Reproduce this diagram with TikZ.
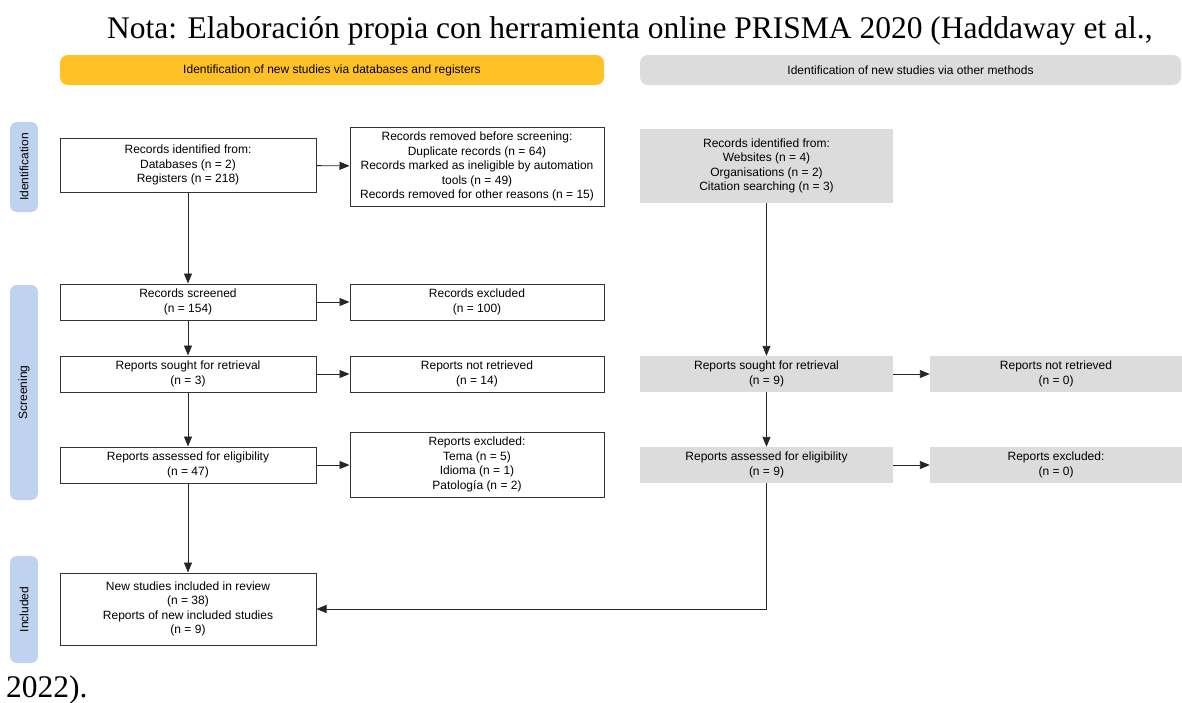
\documentclass[tikz,border=0pt]{standalone}
\usepackage{fontspec}
\setmainfont{Liberation Serif}
\newfontfamily\hv{Liberation Sans}
\usetikzlibrary{arrows.meta}
\definecolor{hdryellow}{HTML}{FFC125}
\definecolor{hdrgrey}{HTML}{DCDCDC}
\definecolor{sideblue}{HTML}{BFD3F0}
\definecolor{edgegrey}{HTML}{333333}
\tikzset{
  boxtext/.style={font=\hv\fontsize{12}{14.5}\selectfont, align=center, inner sep=0pt},
  whitebox/.style={boxtext, draw=edgegrey, line width=1pt, fill=white},
  greybox/.style={boxtext, fill=hdrgrey},
  header/.style={font=\hv\fontsize{12}{14}\selectfont, rounded corners=8pt, inner sep=0pt, minimum height=30pt},
  sidelabel/.style={font=\hv\fontsize{12}{14}\selectfont, fill=sideblue, rounded corners=7pt, inner sep=0pt, minimum height=28pt, rotate=90},
  arr/.style={draw=black!85, line width=0.9pt, -{Triangle[length=10pt,width=8pt]}},
  notetext/.style={font=\fontsize{31.5}{36}\selectfont, inner sep=0pt}
}
\begin{document}
\begin{tikzpicture}[x=1pt,y=-1pt]
\useasboundingbox (0,0) rectangle (1182,702);
% note text
\node[notetext, anchor=base west] (note1) at (107,38) {Nota: Elaboración propia con herramienta online PRISMA 2020 (Haddaway et al.,};
\node[notetext, anchor=base west] (note2) at (6,697) {2022).};
% headers
\node[header, fill=hdryellow, minimum width=544pt] (hdrL) at (332,70) {Identification of new studies via databases and registers};
\node[header, fill=hdrgrey, minimum width=541pt] (hdrR) at (910.5,70) {Identification of new studies via other methods};
% side labels
\node[sidelabel, minimum width=90pt] (sideId) at (24,167) {Identification};
\node[sidelabel, minimum width=215pt] (sideSc) at (24,392.5) {Screening};
\node[sidelabel, minimum width=107pt] (sideIn) at (24,609.5) {Included};
% left column
\node[whitebox, minimum width=256pt, minimum height=54pt] (A) at (188,165) {Records identified from:\\Databases (n = 2)\\Registers (n = 218)};
\node[whitebox, minimum width=254pt, minimum height=79pt] (B) at (477,166.5) {Records removed before screening:\\Duplicate records (n = 64)\\Records marked as ineligible by automation\\tools (n = 49)\\Records removed for other reasons (n = 15)};
\node[whitebox, minimum width=256pt, minimum height=36pt] (D) at (188,302) {Records screened\\(n = 154)};
\node[whitebox, minimum width=254pt, minimum height=36pt] (E) at (477,302) {Records excluded\\(n = 100)};
\node[whitebox, minimum width=256pt, minimum height=36pt] (F) at (188,374) {Reports sought for retrieval\\(n = 3)};
\node[whitebox, minimum width=254pt, minimum height=36pt] (G) at (477,374) {Reports not retrieved\\(n = 14)};
\node[whitebox, minimum width=256pt, minimum height=36pt] (J) at (188,465) {Reports assessed for eligibility\\(n = 47)};
\node[whitebox, minimum width=254pt, minimum height=65pt] (K) at (477,464.5) {Reports excluded:\\Tema (n = 5)\\Idioma (n = 1)\\Patología (n = 2)};
\node[whitebox, minimum width=256pt, minimum height=72pt] (N) at (188,609) {New studies included in review\\(n = 38)\\Reports of new included studies\\(n = 9)};
% right column
\node[greybox, minimum width=253pt, minimum height=74pt] (C) at (766.5,166) {Records identified from:\\Websites (n = 4)\\Organisations (n = 2)\\Citation searching (n = 3)};
\node[greybox, minimum width=253pt, minimum height=36pt] (H) at (766.5,374) {Reports sought for retrieval\\(n = 9)};
\node[greybox, minimum width=252pt, minimum height=36pt] (I) at (1056,374) {Reports not retrieved\\(n = 0)};
\node[greybox, minimum width=253pt, minimum height=36pt] (L) at (766.5,465) {Reports assessed for eligibility\\(n = 9)};
\node[greybox, minimum width=252pt, minimum height=36pt] (M) at (1056,465) {Reports excluded:\\(n = 0)};
% connectors
\draw[arr] (A) -- (B);
\draw[arr] (A) -- (D);
\draw[arr] (D) -- (E);
\draw[arr] (D) -- (F);
\draw[arr] (F) -- (G);
\draw[arr] (F) -- (J);
\draw[arr] (J.east) -- (K.west |- J.east);
\draw[arr] (J) -- (N);
\draw[arr] (C) -- (H);
\draw[arr] (H) -- (I);
\draw[arr] (H) -- (L);
\draw[arr] (L) -- (M);
\draw[arr] (L) -- (L|-N.east) -- (N.east);
\end{tikzpicture}
\end{document}
